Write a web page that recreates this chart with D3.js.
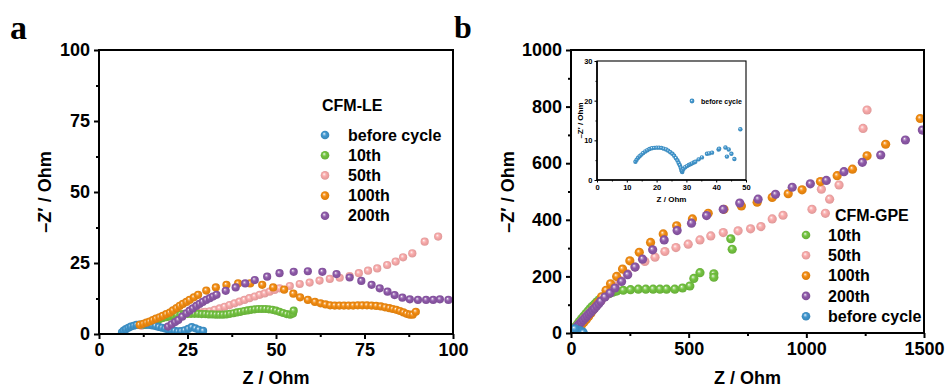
<!DOCTYPE html>
<html><head><meta charset="utf-8">
<script src="https://cdn.jsdelivr.net/npm/d3@7"></script>
<style>
html,body{margin:0;padding:0;background:#fff;}
svg{display:block;font-family:"Liberation Sans",Arial,sans-serif;font-weight:bold;}
</style></head>
<body>
<svg id="chart" width="948" height="387"></svg>
<script>
// ---------- DATA ----------
// Panel a (CFM-LE), [Z, -Z'] pairs
const aBefore = [[6.5,0.6],[7,1.2],[7.6,1.7],[8.3,2.2],[9,2.6],[9.8,2.9],[10.6,3.2],[11.5,3.3],[12.4,3.4],[13.3,3.3],[14.2,3.2],[15.1,3],[16,2.8],[16.9,2.5],[17.8,2.2],[18.7,1.9],[19.6,1.6],[20.5,1.3],[21.4,1.1],[22.3,0.9],[23.2,1],[24.2,1.3],[25.2,1.8],[26.2,2.4],[27.2,2],[28.2,1.5],[29.4,1.1]];
const a10th = [[13,3.2],[14,3.8],[15,4.3],[16,4.8],[17,5.2],[18,5.6],[19,5.9],[20,6.2],[21,6.5],[22,6.7],[23,6.9],[24,7],[25,7.1],[26,7.1],[27,7.1],[28,7.1],[29,7],[30,7],[31,6.9],[32,6.9],[33,6.8],[34,6.8],[35,6.8],[36,6.9],[37,7.1],[38,7.3],[39,7.6],[40,7.8],[41,8.1],[42,8.3],[43,8.5],[44,8.7],[45,8.8],[46,8.8],[47,8.8],[48,8.7],[49,8.5],[50,8.2],[51,7.8],[52,7.4],[53,7],[54,6.8],[54.8,7.2],[55,8.2]];
const a50th = [[12,2.9],[13,3.4],[14,3.9],[15,4.4],[16,4.9],[17,5.3],[18,5.7],[19,6],[20,6.3],[21,6.6],[22,6.8],[23,7],[24,7.1],[25,7.2],[26,7.3],[27,7.4],[28,7.5],[29,7.6],[30,7.8],[31.3,8],[32.7,8.5],[34.1,9],[35.5,9.6],[36.9,10.2],[38.3,10.8],[39.7,11.4],[41.1,12],[42.5,12.6],[44,13.2],[45.4,13.8],[46.8,14.3],[48.2,14.9],[49.6,15.5],[51,16.1],[53.9,16.9],[56.7,17.6],[59.5,18.1],[62.3,18.8],[65.2,19.4],[68,19.8],[70.8,20.4],[73.4,21.4],[76,22.3],[78.6,23.1],[81.4,24.3],[83.8,25.5],[85.9,27],[88.5,28.4],[92,32.5],[95.8,34.3]];
const a100th = [[11.5,3.2],[12.5,3.6],[13.4,4],[14.3,4.4],[15.2,4.9],[16.1,5.4],[17.1,5.9],[18,6.4],[19,7],[20,7.5],[20.9,8.3],[21.9,9.1],[22.8,9.9],[23.7,10.6],[24.7,11.3],[25.6,12],[26.8,12.9],[28,13.8],[30.3,15.3],[33,16.4],[36,17.3],[39.3,17.8],[42.7,17.8],[46.1,17.3],[49.2,16.4],[52.3,15.6],[54.9,14.2],[56.8,12.9],[59,12],[61,11.3],[62.6,10.8],[64,10.4],[65.3,10.1],[66.6,10],[67.9,10],[69.2,10],[70.5,10],[71.8,10],[73.1,10.1],[74.4,10.1],[75.7,10.1],[77,10],[78.3,9.9],[79.6,9.7],[80.8,9.4],[82,9.1],[83,8.8],[84,8.5],[85,8.1],[86,7.6],[86.9,7.1],[87.8,6.8],[88.6,6.8],[89.5,7.8]];
const a200th = [[19.5,2.6],[20.5,3.4],[21.5,4.2],[22.4,4.9],[23.5,6.1],[24.7,7.3],[25.6,8.2],[26.5,9],[27.5,9.9],[28.4,10.6],[29.3,11.3],[30.3,12],[31.3,12.6],[32.2,13.2],[33.2,13.8],[35.8,15.2],[38.6,16.4],[41.3,17.8],[44,19],[47.5,20.2],[51,21.4],[55,21.9],[59,22.1],[63.1,21.9],[67.1,21.1],[70.8,19.9],[74.1,18.7],[77,17.3],[79.3,16.1],[81.5,14.9],[83.5,13.7],[85.7,12.8],[87.8,12.2],[90.1,12],[92.4,12],[94.4,12],[96.3,12.2],[98.7,12]];

// Panel b (CFM-GPE)
const bBefore = [[4,2],[10,6],[18,9],[26,10],[34,9],[42,6],[48,4],[52,1],[8,12],[16,15]];
const b10th = [[5,6],[12,14],[20,23],[28,32],[36,41],[45,50],[54,59],[63,68],[72,77],[81,86],[90,94],[100,102],[110,110],[121,118],[133,126],[147,133],[162,139],[178,144],[194,148],[222,151],[253,153],[286,155],[318,155],[349,155],[378,155],[406,155],[441,155],[474,159],[505,166],[522,193],[548,213],[607,209],[607,197],[679,333],[685,296]];
const b50th = [[10,8],[20,17],[30,27],[42,38],[55,50],[68,62],[82,74],[97,87],[112,100],[128,114],[146,130],[165,147],[186,166],[208,186],[238,210],[272,233],[314,253],[357,268],[399,288],[446,302],[498,314],[548,329],[594,343],[647,355],[710,361],[763,368],[807,376],[855,403],[901,416],[1024,437],[1081,423],[1064,508],[1099,473],[1139,523],[1241,723],[1258,788]];
const b100th = [[15,5],[25,12],[35,20],[45,28],[55,38],[65,48],[75,58],[85,70],[95,82],[105,95],[115,108],[130,128],[149,151],[168,174],[194,200],[219,226],[250,255],[290,285],[338,320],[392,350],[449,379],[516,403],[583,423],[650,437],[724,449],[791,462],[855,479],[923,492],[982,506],[1060,535],[1131,556],[1196,579],[1258,626],[1337,667],[1484,758]];
const b200th = [[5,5],[12,11],[20,18],[28,25],[36,32],[44,39],[52,46],[60,53],[68,60],[76,67],[84,73],[92,80],[100,87],[109,95],[118,103],[126,112],[144,127],[166,141],[187,159],[215,182],[241,206],[272,233],[304,261],[347,294],[396,329],[451,362],[512,388],[576,415],[647,437],[717,459],[795,473],[869,490],[940,515],[1017,527],[1085,539],[1160,570],[1238,603],[1316,629],[1421,682],[1493,717]];

// Inset (before cycle, CFM-GPE)
const insetBefore = [[12.9,4.6],[13.3,5.1],[13.8,5.6],[14.3,6],[14.9,6.4],[15.5,6.8],[16.2,7.2],[16.9,7.5],[17.6,7.8],[18.4,8],[19.2,8.1],[20,8.15],[20.8,8.15],[21.6,8.1],[22.4,7.9],[23.2,7.7],[23.9,7.4],[24.6,7],[25.3,6.6],[25.9,6.1],[26.5,5.5],[27,4.9],[27.4,4.3],[27.8,3.7],[28.1,3.1],[28.3,2.6],[28.5,2.2],[28.6,2],[28.6,2.4],[29,2.8],[29.6,3.2],[30.2,3.5],[30.8,3.8],[31.4,4],[31.9,4.2],[32.5,4.4],[33,4.6],[34.1,5.2],[35.2,5.7],[36.9,6.6],[37.6,6.7],[38.6,6.9],[40.8,7.7],[41,7.9],[43.1,8.2],[44.2,7.7],[43.6,5.9],[45.1,6.6],[46.1,5.3],[48.1,12.8]];

// Ticks
const aTicks = [0,25,50,75,100];
const aMinor = [12.5,37.5,62.5,87.5];
const bxTicks = [0,500,1000,1500];
const bxMinor = [250,750,1250];
const byTicks = [0,200,400,600,800,1000];
const byMinor = [100,300,500,700,900];
const inXTicks = [0,10,20,30,40,50];
const inYTicks = [0,10,20,30];

const colors = {before:"#3f95cd", t10:"#72c23f", t50:"#f8a9a9", t100:"#f28b10", t200:"#8d58a8"};

// ---------- DRAW ----------
const svg = d3.select("#chart");
const defs = svg.append("defs");
Object.entries(colors).forEach(([k,c])=>{
  const g = defs.append("radialGradient").attr("id","g_"+k).attr("cx","50%").attr("cy","50%").attr("r","55%").attr("fx","38%").attr("fy","34%");
  g.append("stop").attr("offset","0%").attr("stop-color","#ffffff");
  g.append("stop").attr("offset","22%").attr("stop-color",d3.interpolateRgb(c,"#ffffff")(0.35));
  g.append("stop").attr("offset","45%").attr("stop-color",c);
  g.append("stop").attr("offset","100%").attr("stop-color",d3.color(c).darker(0.35));
});

function panel(box, xDom, yDom, xT, xM, yT, yM, clipId){
  const x = d3.scaleLinear().domain(xDom).range([box.l, box.r]);
  const y = d3.scaleLinear().domain(yDom).range([box.b, box.t]);
  defs.append("clipPath").attr("id",clipId).append("rect")
    .attr("x",box.l).attr("y",box.t).attr("width",box.r-box.l).attr("height",box.b-box.t);
  return {x,y};
}

function axes(box, s, xT, xM, yT, yM, opt){
  const g = svg.append("g");
  const xa = g.append("g").attr("transform",`translate(0,${box.b})`)
    .call(d3.axisBottom(s.x).tickValues(xT).tickSize(opt.tick).tickPadding(opt.pad).tickFormat(d3.format("d")));
  xa.append("g").call(d3.axisBottom(s.x).tickValues(xM).tickSize(opt.minor).tickFormat(""));
  const ya = g.append("g").attr("transform",`translate(${box.l},0)`)
    .call(d3.axisLeft(s.y).tickValues(yT).tickSize(opt.tick).tickPadding(opt.pad).tickFormat(d3.format("d")));
  ya.append("g").call(d3.axisLeft(s.y).tickValues(yM).tickSize(opt.minor).tickFormat(""));
  g.selectAll(".domain").attr("stroke","none");
  g.selectAll(".tick line").attr("stroke","#000").attr("stroke-width",opt.sw);
  g.selectAll(".tick text").attr("fill","#000").style("font-size",opt.fs+"px").style("font-weight","bold")
    .style("font-family","'Liberation Sans',Arial,sans-serif");
  // frame
  g.append("rect").attr("x",box.l).attr("y",box.t).attr("width",box.r-box.l).attr("height",box.b-box.t)
    .attr("fill","none").attr("stroke","#000").attr("stroke-width",opt.frame);
  return g;
}

function dots(s, data, key, r, clipId){
  svg.append("g").attr("clip-path",`url(#${clipId})`).selectAll("circle").data(data).join("circle")
    .attr("cx",d=>s.x(d[0])).attr("cy",d=>s.y(d[1])).attr("r",r)
    .attr("fill",`url(#g_${key})`);
}

// Panel a
const A = {l:99, r:453, t:50, b:334};
const sa = panel(A,[0,100],[0,100],aTicks,aMinor,aTicks,aMinor,"clipA");
dots(sa,a50th,"t50",4.1,"clipA");
dots(sa,a10th,"t10",4.1,"clipA");
dots(sa,aBefore,"before",4.1,"clipA");
dots(sa,a100th,"t100",4.1,"clipA");
dots(sa,a200th,"t200",4.1,"clipA");
axes(A,sa,aTicks,aMinor,aTicks,aMinor,{tick:5,minor:3,pad:4,fs:18,sw:2,frame:2});

// Panel b
const B = {l:571, r:924, t:50, b:333};
const sb = panel(B,[0,1500],[0,1000],bxTicks,bxMinor,byTicks,byMinor,"clipB");
dots(sb,b10th,"t10",4.6,"clipB");
dots(sb,b50th,"t50",4.6,"clipB");
dots(sb,b100th,"t100",4.6,"clipB");
dots(sb,b200th,"t200",4.6,"clipB");
dots(sb,bBefore,"before",4.6,"clipB");
axes(B,sb,bxTicks,bxMinor,byTicks,byMinor,{tick:5,minor:3,pad:4,fs:18,sw:2,frame:2});

// Inset
const I = {l:597, r:746, t:61, b:180};
svg.append("rect").attr("x",I.l).attr("y",I.t).attr("width",I.r-I.l).attr("height",I.b-I.t).attr("fill","#fff");
const si = panel(I,[0,50],[0,30],inXTicks,[],inYTicks,[],"clipI");
dots(si,insetBefore,"before",2.2,"clipI");
const gi = axes(I,si,inXTicks,[5,15,25,35,45],inYTicks,[5,15,25],{tick:2.5,minor:1.5,pad:2,fs:7.5,sw:1,frame:1.1});
gi.append("line").attr("x1",I.l).attr("x2",I.r).attr("y1",I.b).attr("y2",I.b).attr("stroke","#000").attr("stroke-width",1.6);
gi.append("line").attr("x1",I.l).attr("x2",I.l).attr("y1",I.t).attr("y2",I.b).attr("stroke","#000").attr("stroke-width",1.6);
svg.append("circle").attr("cx",692).attr("cy",101).attr("r",2.4).attr("fill","url(#g_before)");
svg.append("text").attr("x",701).attr("y",103.5).text("before cycle").style("font-size","7px");
svg.append("text").attr("x",(I.l+I.r)/2).attr("y",202).attr("text-anchor","middle").text("Z / Ohm").style("font-size","8px");
svg.append("text").attr("transform",`translate(583,${(I.t+I.b)/2}) rotate(-90)`).attr("text-anchor","middle")
  .style("font-size","8px").text("–Z′ / Ohm");

// Titles
function ytitle(x, text){
  svg.append("text").attr("transform",`translate(${x},192) rotate(-90)`).attr("text-anchor","middle")
    .attr("dy","0.35em").style("font-size","18px").text(text);
}
ytitle(45,"–Z′ / Ohm");
ytitle(508,"–Z′ / Ohm");
svg.append("text").attr("x",(A.l+A.r)/2).attr("y",384).attr("text-anchor","middle").style("font-size","18px").text("Z / Ohm");
svg.append("text").attr("x",(B.l+B.r)/2).attr("y",384).attr("text-anchor","middle").style("font-size","18px").text("Z / Ohm");

// Panel letters
svg.append("text").attr("x",10).attr("y",39).style("font-family","'Liberation Serif','Times New Roman',serif")
  .style("font-size","34px").style("font-weight","bold").text("a");
svg.append("text").attr("x",454).attr("y",38).style("font-family","'Liberation Serif','Times New Roman',serif")
  .style("font-size","32px").style("font-weight","bold").text("b");

// Legends
function legend(x0, tx, titleX, titleY, y0, step, items, title){
  svg.append("text").attr("x",titleX).attr("y",titleY).attr("dy","0.35em").style("font-size","16px").text(title);
  items.forEach((it,i)=>{
    const yy = y0 + i*step;
    svg.append("circle").attr("cx",x0).attr("cy",yy).attr("r",4.3).attr("fill",`url(#g_${it[0]})`);
    svg.append("text").attr("x",tx).attr("y",yy).attr("dy","0.35em").style("font-size","16px").text(it[1]);
  });
}
legend(325,348,322,105,135,20.2,[["before","before cycle"],["t10","10th"],["t50","50th"],["t100","100th"],["t200","200th"]],"CFM-LE");
legend(806,828,835,215,235,20.3,[["t10","10th"],["t50","50th"],["t100","100th"],["t200","200th"],["before","before cycle"]],"CFM-GPE");
</script>
</body></html>
